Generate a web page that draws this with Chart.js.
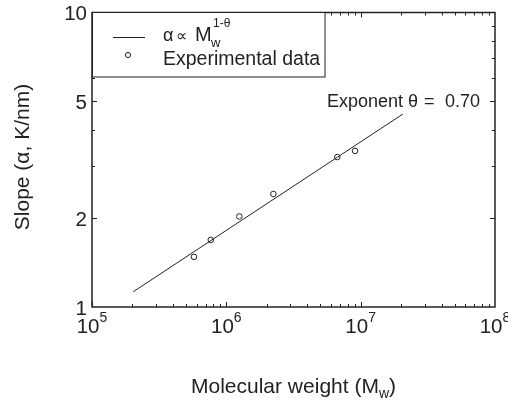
<!DOCTYPE html>
<html>
<head>
<meta charset="utf-8">
<script src="https://cdn.jsdelivr.net/npm/chart.js@4/dist/chart.umd.min.js"></script>
<style>
  html, body { margin: 0; padding: 0; background: #fff; }
  canvas { display: block; }
</style>
</head>
<body>
<canvas id="graph" width="508" height="405"></canvas>
<script>
// measured points (molecular weight vs slope)
const molWeight = [5.74e5, 7.66e5, 1.25e6, 2.24e6, 6.70e6, 9.08e6];
const slopeData = [1.48, 1.69, 2.03, 2.42, 3.23, 3.39];

// power-law fit, exponent theta = 0.70
const fitWeight = [2.03e5, 2.06e7];
const fitSlope = [1.127, 4.52];

// axis ticks
const xTickValues = [1e5, 1e6, 1e7, 1e8];
const xTickExponents = ['5', '6', '7', '8'];
const yTickValues = [1, 2, 5, 10];
const yTickLabels = ['1', '2', '5', '10'];

const FONT = 'Liberation Sans, Arial, Helvetica, sans-serif';
const INK = '#222';

function font(size) {
    return size + 'px ' + FONT;
}

// draws text pieces left to right, [text, size, dy]
function drawPieces(ctx, pieces, x, y) {
    let cx = x;
    pieces.forEach(function (p) {
        ctx.font = font(p[1]);
        ctx.fillText(p[0], cx, y + (p[2] || 0));
        cx += ctx.measureText(p[0]).width + (p[3] || 0);
    });
    return cx;
}

function piecesWidth(ctx, pieces) {
    let w = 0;
    pieces.forEach(function (p) {
        ctx.font = font(p[1]);
        w += ctx.measureText(p[0]).width + (p[3] || 0);
    });
    return w;
}

const axesPlugin = {
    id: 'matlabAxes',
    afterDraw: function (chart) {
        const ctx = chart.ctx;
        const area = chart.chartArea;
        const xs = chart.scales.x;
        const ys = chart.scales.y;

        ctx.save();
        ctx.strokeStyle = INK;
        ctx.fillStyle = INK;

        // inward ticks
        ctx.lineWidth = 1;
        ctx.beginPath();
        for (let e = 5; e < 8; e++) {
            for (let k = 1; k < 10; k++) {
                const v = k * Math.pow(10, e);
                const px = Math.round(xs.getPixelForValue(v)) + 0.5;
                const len = k === 1 ? 5 : 3;
                ctx.moveTo(px, area.bottom); ctx.lineTo(px, area.bottom - len);
                ctx.moveTo(px, area.top); ctx.lineTo(px, area.top + len);
            }
        }
        for (let k = 2; k < 10; k++) {
            const py = Math.round(ys.getPixelForValue(k)) + 0.5;
            const len = (k === 2 || k === 5) ? 5 : 3;
            ctx.moveTo(area.left, py); ctx.lineTo(area.left + len, py);
            ctx.moveTo(area.right, py); ctx.lineTo(area.right - len, py);
        }
        ctx.stroke();

        // box
        ctx.lineWidth = 1.5;
        ctx.strokeRect(area.left, area.top, area.right - area.left, area.bottom - area.top);

        // y tick labels
        ctx.textAlign = 'right';
        ctx.textBaseline = 'middle';
        ctx.font = font(20.5);
        yTickValues.forEach(function (v, i) {
            ctx.fillText(yTickLabels[i], area.left - 5, ys.getPixelForValue(v) + 2);
        });

        // x tick labels 10^n
        ctx.textAlign = 'left';
        ctx.textBaseline = 'alphabetic';
        xTickValues.forEach(function (v, i) {
            const pieces = [['10', 20.5, 0], [xTickExponents[i], 14, -11]];
            const w = piecesWidth(ctx, pieces);
            drawPieces(ctx, pieces, xs.getPixelForValue(v) - w / 2, 333);
        });

        // x title
        const xt = [['Molecular weight (M', 21, 0], ['w', 14, 5], [')', 21, 0]];
        const xw = piecesWidth(ctx, xt);
        drawPieces(ctx, xt, (area.left + area.right) / 2 - xw / 2, 393);

        // y title
        ctx.save();
        ctx.translate(29, 157);
        ctx.rotate(-Math.PI / 2);
        ctx.textAlign = 'center';
        ctx.font = font(21);
        ctx.fillText('Slope (\u03b1, K/nm)', 0, 0);
        ctx.restore();

        // legend box
        ctx.fillStyle = '#fff';
        ctx.fillRect(93, 12.5, 232, 64.5);
        ctx.lineWidth = 1;
        ctx.strokeStyle = INK;
        ctx.strokeRect(92.5, 12.5, 232.5, 64.5);
        ctx.fillStyle = INK;
        ctx.beginPath();
        ctx.moveTo(113, 37.5); ctx.lineTo(145, 37.5);
        ctx.stroke();
        ctx.beginPath();
        ctx.fillStyle = '#fff';
        ctx.arc(128, 55, 2.6, 0, Math.PI * 2);
        ctx.fill();
        ctx.stroke();
        ctx.fillStyle = INK;
        ctx.textAlign = 'left';
        ctx.font = font(18);
        ctx.fillText('\u03b1', 163, 41);
        ctx.font = font(16);
        ctx.fillText('\u221d', 176, 41);
        ctx.font = font(20);
        ctx.fillText('M', 195, 41);
        ctx.font = font(13);
        ctx.fillText('w', 211, 47);
        ctx.font = font(12);
        ctx.fillText('1-\u03b8', 213, 27);
        ctx.font = font(19.5);
        ctx.fillText('Experimental data', 163, 65);

        // exponent annotation
        ctx.font = font(18);
        ctx.fillText('Exponent', 327, 106.5);
        ctx.fillText('\u03b8', 408, 106.5);
        ctx.fillText('=', 424, 106.5);
        ctx.fillText('0.70', 445, 106.5);

        ctx.restore();
    }
};

const graph = document.getElementById('graph').getContext('2d');

const fitPoints = fitWeight.map(function (w, i) { return { x: w, y: fitSlope[i] }; });
const dataPoints = molWeight.map(function (w, i) { return { x: w, y: slopeData[i] }; });

new Chart(graph, {
    type: 'scatter',
    data: {
        datasets: [
            {
                label: 'fit',
                data: fitPoints,
                showLine: true,
                borderColor: INK,
                borderWidth: 1,
                pointRadius: 0,
                fill: false
            },
            {
                label: 'Experimental data',
                data: dataPoints,
                showLine: false,
                pointStyle: 'circle',
                pointRadius: 2.8,
                borderColor: INK,
                borderWidth: 1,
                backgroundColor: '#fff'
            }
        ]
    },
    options: {
        responsive: false,
        animation: false,
        layout: { padding: { left: 92, right: 13, top: 12.5, bottom: 98 } },
        plugins: {
            legend: { display: false },
            tooltip: { enabled: false }
        },
        scales: {
            x: { type: 'logarithmic', min: 1e5, max: 1e8, display: false },
            y: { type: 'logarithmic', min: 1, max: 10, display: false }
        }
    },
    plugins: [axesPlugin]
});
</script>
</body>
</html>
